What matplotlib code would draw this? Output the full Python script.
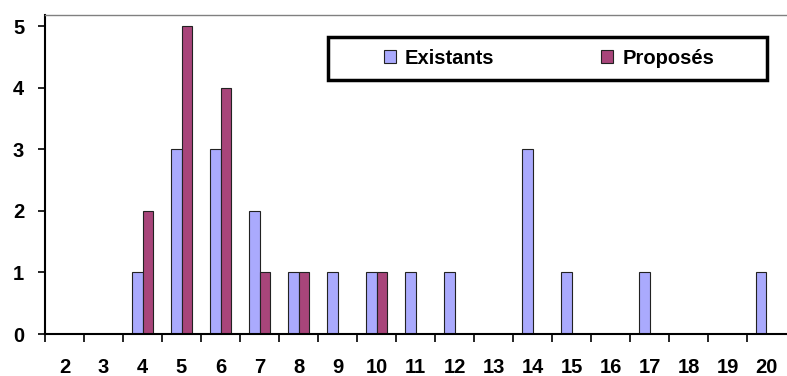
import matplotlib.pyplot as plt
from matplotlib.patches import Rectangle
import numpy as np

# classes (x categories) and counts per series
categories = [2, 3, 4, 5, 6, 7, 8, 9, 10, 11, 12, 13, 14, 15, 16, 17, 18, 19, 20]
existants = [0, 0, 1, 3, 3, 2, 1, 1, 1, 1, 1, 0, 3, 1, 0, 1, 0, 0, 1]
proposes = [0, 0, 2, 5, 4, 1, 1, 0, 1, 0, 0, 0, 0, 0, 0, 0, 0, 0, 0]

plt.rcParams['font.family'] = ['Liberation Sans', 'DejaVu Sans']
plt.rcParams['font.weight'] = 'bold'

fig = plt.figure(figsize=(7.87, 3.76), dpi=100)
ax = fig.add_axes([45 / 787, 42 / 376, 741 / 787, 319 / 376])

x = np.arange(len(categories))
w = 0.27
ax.bar(x - w / 2, existants, w, color='#aaaafd', edgecolor='#222222', linewidth=0.8, label='Existants')
ax.bar(x + w / 2, proposes, w, color='#a8457a', edgecolor='#222222', linewidth=0.8, label='Proposés')

ax.set_xlim(-0.5, len(categories) - 0.5)
ax.set_ylim(0, 5.18)

ax.set_yticks(range(6))
ax.tick_params(axis='y', length=5, width=1.2, pad=10, labelsize=14.5)
ax.set_xticks(x)
ax.set_xticklabels([str(c) for c in categories])
ax.set_xticks(np.arange(len(categories)) - 0.5, minor=True)
ax.tick_params(axis='x', which='major', length=0, pad=17, labelsize=14.5)
ax.tick_params(axis='x', which='minor', length=6, width=1.2)

ax.spines['right'].set_visible(False)
ax.spines['top'].set_color('#808080')
ax.spines['top'].set_linewidth(1.0)
for s in ('left', 'bottom'):
    ax.spines[s].set_linewidth(1.5)

# legend box drawn as its own rectangle, entries centered inside
box = Rectangle((0.382, 0.796), 0.592, 0.135, transform=ax.transAxes, facecolor='white',
                edgecolor='black', linewidth=2.5, zorder=5, clip_on=False)
ax.add_patch(box)
leg = ax.legend(loc='center', bbox_to_anchor=(0.68, 0.864), ncol=2, frameon=False,
                fontsize=14.5, handlelength=0.6, handleheight=0.6, handletextpad=0.45,
                columnspacing=5.3, borderaxespad=0)
leg.set_zorder(6)

fig.savefig('out.png', dpi=100)
